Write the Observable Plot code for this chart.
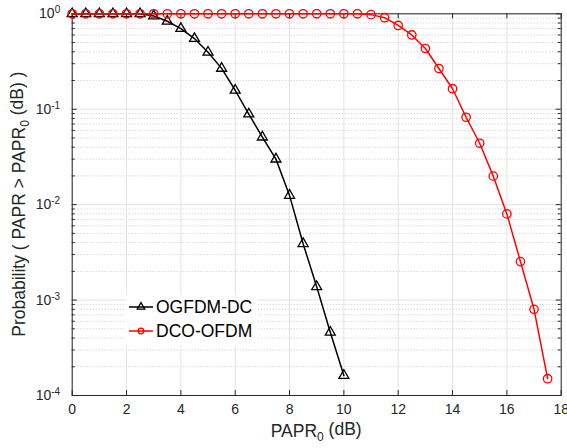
<!DOCTYPE html>
<html>
<head>
<meta charset="utf-8">
<script src="https://cdn.jsdelivr.net/npm/d3@7"></script>
<script src="https://cdn.jsdelivr.net/npm/@observablehq/plot@0.6"></script>
<style>
  html, body { margin: 0; padding: 0; background: #fff; }
  svg { font-family: "Liberation Sans", Arial, sans-serif; }
</style>
</head>
<body>
<div id="chart"></div>
<script>
// ---- data ----
const ogfdmX = [0,0.5,1,1.5,2,2.5,3,3.5,4,4.5,5,5.5,6,6.5,7,7.5,8,8.5,9,9.5,10];
const ogfdmY = [1,1,1,1,1,1,0.95,0.835,0.70,0.55,0.395,0.268,0.158,0.089,0.051,0.030,0.0125,0.0039,0.00138,0.00046,0.000162];
const dcoX = [0,0.5,1,1.5,2,2.5,3,3.5,4,4.5,5,5.5,6,6.5,7,7.5,8,8.5,9,9.5,10,10.5,11,11.5,12,12.5,13,13.5,14,14.5,15,15.5,16,16.5,17,17.5];
const dcoY = [1,1,1,1,1,1,1,1,1,1,1,1,1,1,1,1,1,1,1,1,1,1,0.98,0.91,0.755,0.60,0.433,0.267,0.164,0.0824,0.044,0.0199,0.0080,0.00253,0.0008,0.00015];
const seriesNames = ["OGFDM-DC", "DCO-OFDM"];
const seriesColors = ["#000000", "#ff0000"];
const xTicks = [0,2,4,6,8,10,12,14,16,18];
const yTicks = [1e-4,1e-3,1e-2,1e-1,1];
const yMinor = [];
for (let e = -4; e < 0; e++) for (let k = 2; k <= 9; k++) yMinor.push(k * Math.pow(10, e));

const og = ogfdmX.map((x, i) => ({x, y: ogfdmY[i]}));
const dco = dcoX.map((x, i) => ({x, y: dcoY[i]}));

const W = 567, H = 448;
const mL = 71.7, mR = 6.3, mT = 13.3, mB = 53;
const fw = W - mL - mR, fh = H - mT - mB;
const axisColor = "#262626";

const plot = Plot.plot({
  width: W, height: H,
  marginLeft: mL, marginRight: mR, marginTop: mT, marginBottom: mB,
  style: {fontFamily: "Liberation Sans, Arial, sans-serif", fontSize: "14px", color: axisColor, background: "#fff"},
  x: {domain: [0, 18]},
  y: {type: "log", domain: [1e-4, 1]},
  marks: [
    // minor dotted grid
    Plot.ruleY(yMinor, {y: d => d, stroke: "#c8c8c8", strokeDasharray: "1,2", strokeWidth: 1}),
    // major grid
    Plot.ruleX(xTicks, {x: d => d, stroke: "#e3e3e3", strokeWidth: 1}),
    Plot.ruleY(yTicks, {y: d => d, stroke: "#e3e3e3", strokeWidth: 1}),
    // inward ticks
    Plot.tickX(xTicks, {x: d => d, insetTop: fh - 5, stroke: axisColor}),
    Plot.tickX(xTicks, {x: d => d, insetBottom: fh - 5, stroke: axisColor}),
    Plot.tickY(yTicks, {y: d => d, insetRight: fw - 5, stroke: axisColor}),
    Plot.tickY(yTicks, {y: d => d, insetLeft: fw - 5, stroke: axisColor}),
    Plot.tickY(yMinor, {y: d => d, insetRight: fw - 3, stroke: axisColor}),
    Plot.tickY(yMinor, {y: d => d, insetLeft: fw - 3, stroke: axisColor}),
    Plot.frame({stroke: axisColor, strokeWidth: 1}),
    Plot.axisX(xTicks, {tickSize: 0, tickPadding: 9, fontSize: 14, label: null, fill: axisColor}),
    Plot.axisY(yTicks, {tickSize: 0, tickPadding: 12, fontSize: 14, label: null, fill: axisColor,
      tickFormat: d => "10^" + Math.round(Math.log10(d))}),
    // series
    Plot.line(og, {x: "x", y: "y", stroke: seriesColors[0], strokeWidth: 1.5}),
    Plot.dot(og, {x: "x", y: "y", symbol: "triangle", r: 3.7, stroke: seriesColors[0], strokeWidth: 1.3, fill: "none"}),
    Plot.line(dco, {x: "x", y: "y", stroke: seriesColors[1], strokeWidth: 1.5}),
    Plot.dot(dco, {x: "x", y: "y", symbol: "circle", r: 4.2, stroke: seriesColors[1], strokeWidth: 1.3, fill: "none"})
  ]
});

const svg = d3.select(plot);
// superscript tick labels
svg.selectAll("g[aria-label='y-axis tick label'] text").each(function() {
  const t = d3.select(this);
  const s = t.text();
  const [base, exp] = s.split("^");
  t.text(null);
  t.append("tspan").text(base);
  t.append("tspan").attr("dy", "-0.5em").attr("font-size", "10px").text(exp);
});

// x label
const xl = svg.append("text")
  .attr("x", mL + fw / 2).attr("y", 437)
  .attr("text-anchor", "middle").attr("font-size", 17.5).attr("fill", axisColor);
xl.append("tspan").text("PAPR");
xl.append("tspan").attr("dy", "0.32em").attr("font-size", "12px").text("0");
xl.append("tspan").attr("dy", "-0.32em").text(" (dB)");

// y label
const yl = svg.append("text")
  .attr("transform", `translate(25,${mT + fh / 2}) rotate(-90)`)
  .attr("text-anchor", "middle").attr("font-size", 17.5).attr("fill", axisColor);
yl.append("tspan").text("Probability ( PAPR > PAPR");
yl.append("tspan").attr("dy", "0.32em").attr("font-size", "12px").text("0");
yl.append("tspan").attr("dy", "-0.32em").text(" (dB) )");

// legend
const lg = svg.append("g");
lg.append("rect").attr("x", 126).attr("y", 295).attr("width", 132).attr("height", 50).attr("fill", "#fff");
const entries = [{y: 307, sym: "triangle"}, {y: 331, sym: "circle"}];
entries.forEach((e, i) => {
  lg.append("line").attr("x1", 129).attr("x2", 153).attr("y1", e.y).attr("y2", e.y)
    .attr("stroke", seriesColors[i]).attr("stroke-width", 1.5);
  if (e.sym === "triangle") {
    lg.append("path").attr("d", d3.symbol(d3.symbolTriangle, 2.8 * 2.8 * Math.PI)())
      .attr("transform", `translate(141,${e.y})`).attr("fill", "none")
      .attr("stroke", seriesColors[i]).attr("stroke-width", 1.3);
  } else {
    lg.append("circle").attr("cx", 141).attr("cy", e.y).attr("r", 2.8).attr("fill", "none")
      .attr("stroke", seriesColors[i]).attr("stroke-width", 1.3);
  }
  lg.append("text").attr("x", 156).attr("y", e.y).attr("dy", "0.36em")
    .attr("text-anchor", "start")
    .attr("font-size", 17.5).attr("fill", "#000").text(seriesNames[i]);
});

document.getElementById("chart").appendChild(plot);
</script>
</body>
</html>
